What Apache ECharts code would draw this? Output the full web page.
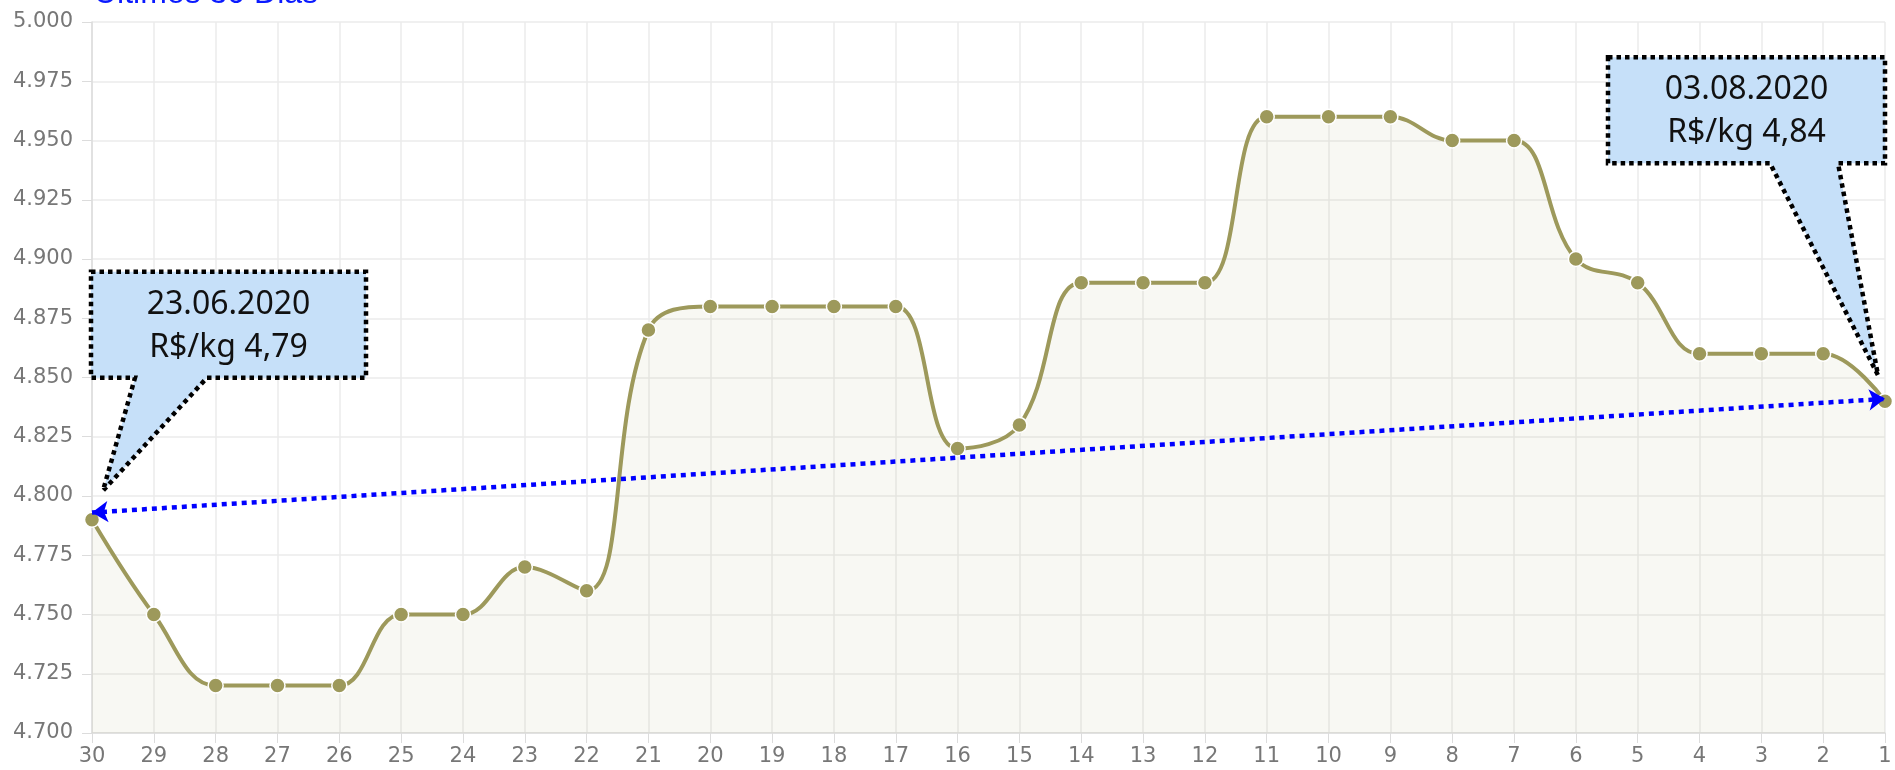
<!DOCTYPE html>
<html>
<head>
<meta charset="utf-8">
<title>Últimos 30 Dias</title>
<script src="https://cdn.jsdelivr.net/npm/echarts@6/dist/echarts.min.js"></script>
<style>
    html, body { margin: 0; padding: 0; background: #fff; }
    #chart { width: 1895px; height: 770px; }
</style>
</head>
<body>
<div id="chart"></div>
<script>
// dias (30 = mais antigo, 1 = mais recente)
var days = ['30', '29', '28', '27', '26', '25', '24', '23', '22', '21',
    '20', '19', '18', '17', '16', '15', '14', '13', '12', '11',
    '10', '9', '8', '7', '6', '5', '4', '3', '2', '1'];

// preço R$/kg
var prices = [4.79, 4.75, 4.72, 4.72, 4.72, 4.75, 4.75, 4.77, 4.76, 4.87,
    4.88, 4.88, 4.88, 4.88, 4.82, 4.83, 4.89, 4.89, 4.89, 4.96,
    4.96, 4.96, 4.95, 4.95, 4.90, 4.89, 4.86, 4.86, 4.86, 4.84];

// eixo y
var yMin = 4.7;
var yMax = 5.0;
var yStep = 0.025;

// balões de anotação
var noteDays = ['30', '1'];
var noteValues = [4.79, 4.84];
var noteDates = ['23.06.2020', '03.08.2020'];
var notePrices = ['R$/kg 4,79', 'R$/kg 4,84'];

var lineColor = '#9d995b';
var labelFont = 'DejaVu Sans';

var chart = echarts.init(document.getElementById('chart'));

var option = {
    animation: false,
    title: {
        text: 'Últimos 30 Dias',
        left: 89,
        top: -27,
        textStyle: {
            color: '#0a1aff',
            fontFamily: 'Liberation Sans',
            fontWeight: 'normal',
            fontSize: 32
        }
    },
    grid: {
        left: 92,
        right: 10,
        top: 22,
        bottom: 37
    },
    xAxis: {
        type: 'category',
        boundaryGap: false,
        data: days,
        axisLine: { lineStyle: { color: '#dcdcdc', width: 1.5 } },
        axisTick: { show: true, length: 10, lineStyle: { color: '#dcdcdc' } },
        axisLabel: { color: '#777', fontSize: 21, fontFamily: labelFont, margin: 13 },
        splitLine: { show: true, lineStyle: { color: '#ebebeb', width: 1.5 } }
    },
    yAxis: {
        type: 'value',
        min: yMin,
        max: yMax,
        interval: yStep,
        axisLine: { show: true, lineStyle: { color: '#dcdcdc', width: 1.5 } },
        axisTick: { show: true, length: 10, lineStyle: { color: '#dcdcdc' } },
        axisLabel: {
            color: '#777',
            fontSize: 21,
            fontFamily: labelFont,
            margin: 19,
            formatter: function (v) { return v.toFixed(3); }
        },
        splitLine: { show: true, lineStyle: { color: '#ebebeb', width: 1.5 } }
    },
    series: [{
        type: 'line',
        data: prices,
        smooth: 0.4,
        symbol: 'circle',
        symbolSize: 15,
        itemStyle: { color: lineColor, borderColor: '#fff', borderWidth: 1.5 },
        lineStyle: { color: lineColor, width: 4 },
        areaStyle: { color: 'rgba(160,160,100,0.11)' },
        markLine: {
            silent: true,
            symbol: ['arrow', 'arrow'],
            symbolSize: [16, 16],
            label: { show: false },
            lineStyle: { color: '#0000ff', width: 4.5, type: [5, 5], opacity: 1 },
            data: [[
                { coord: [noteDays[0], noteValues[0] + 0.003] },
                { coord: [noteDays[1], noteValues[1] + 0.001] }
            ]]
        }
    }]
};
chart.setOption(option);

// balão: caixa + ponteiro, com borda pontilhada
function callout(tip, bx, by, bw, bh, b1, b2, line1, line2) {
    var pts = [
        [bx, by], [bx + bw, by], [bx + bw, by + bh],
        [bx + b2, by + bh], tip, [bx + b1, by + bh], [bx, by + bh]
    ];
    var cx = bx + bw / 2;
    return [{
        type: 'polygon',
        z: 100,
        shape: { points: pts },
        style: {
            fill: '#c6e0f9',
            stroke: '#000',
            lineWidth: 4.5,
            lineDash: [4.5, 4]
        }
    }, {
        type: 'text',
        z: 101,
        x: cx,
        y: by + 33,
        style: {
            text: line1, fill: '#111', font: '32px "Noto Sans"',
            align: 'center', verticalAlign: 'middle'
        }
    }, {
        type: 'text',
        z: 101,
        x: cx,
        y: by + 76,
        style: {
            text: line2, fill: '#111', font: '32px "Noto Sans"',
            align: 'center', verticalAlign: 'middle'
        }
    }];
}

var pA = chart.convertToPixel({ seriesIndex: 0 }, [noteDays[0], noteValues[0]]);
var pB = chart.convertToPixel({ seriesIndex: 0 }, [noteDays[1], noteValues[1]]);

var graphics = []
    .concat(callout([pA[0] + 11, pA[1] - 29], pA[0] - 1, pA[1] - 248, 275, 106, 44, 116,
        noteDates[0], notePrices[0]))
    .concat(callout([pB[0] - 7, pB[1] - 26], pB[0] - 277, pB[1] - 344, 277, 106, 162, 230,
        noteDates[1], notePrices[1]));

chart.setOption({ graphic: graphics });
</script>
</body>
</html>
